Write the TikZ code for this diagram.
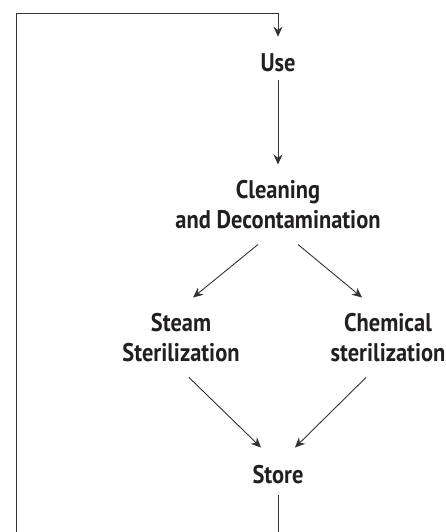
\documentclass[tikz,border=0pt]{standalone}
\usepackage{fontspec}
\setmainfont{PT Sans}[FakeStretch=0.88]
\usetikzlibrary{positioning}
\usetikzlibrary{arrows.meta}
\definecolor{inkgrey}{HTML}{333333}
\definecolor{textblack}{HTML}{231F20}
\tikzset{
        stagenode/.style={align=center, inner sep=0pt, text=textblack, font=\fontsize{25.5pt}{30pt}\selectfont\bfseries},
        % Flow arrows
        flow/.style={draw=inkgrey, line width=0.9pt, -{Stealth[length=10pt,width=9pt]}},
        % Return line
        loopline/.style={draw=inkgrey, line width=0.9pt}
}
\begin{document}
\begin{tikzpicture}[x=1pt, y=-1pt]
            \useasboundingbox (0,0) rectangle (446,532);
            \node[stagenode] (use) at (278,63) {Use};
            \node[stagenode] (clean) at (278,205) {Cleaning\\and Decontamination};
            \node[stagenode] (steam) at (181,338) {Steam\\Sterilization};
            \node[stagenode] (chem) at (388,338) {Chemical\\sterilization};
            \node[stagenode] (store) at (278,475) {Store};
            \coordinate (loopbl) at (16,570);
            \coordinate (looptl) at (16,13);

            \draw[flow] ([yshift=-8pt]use.south) -- ([yshift=16pt]clean.north);
            \draw[flow] ([xshift=-20pt,yshift=-15pt]clean.south) -- ([xshift=12pt,yshift=16pt]steam.north);
            \draw[flow] ([xshift=20pt,yshift=-15pt]clean.south) -- ([xshift=-26pt,yshift=16pt]chem.north);
            \draw[flow] ([xshift=8pt,yshift=-15pt]steam.south) -- ([xshift=-17pt,yshift=18pt]store.north);
            \draw[flow] ([xshift=-22pt,yshift=-15pt]chem.south) -- ([xshift=17pt,yshift=18pt]store.north);
            \draw[loopline] ([yshift=-11pt]store.south) -- (store |- loopbl) -- (loopbl) -- (looptl) -- (looptl -| use);
            \draw[flow] (looptl -| use) -- ([yshift=17pt]use.north);
\end{tikzpicture}
\end{document}
